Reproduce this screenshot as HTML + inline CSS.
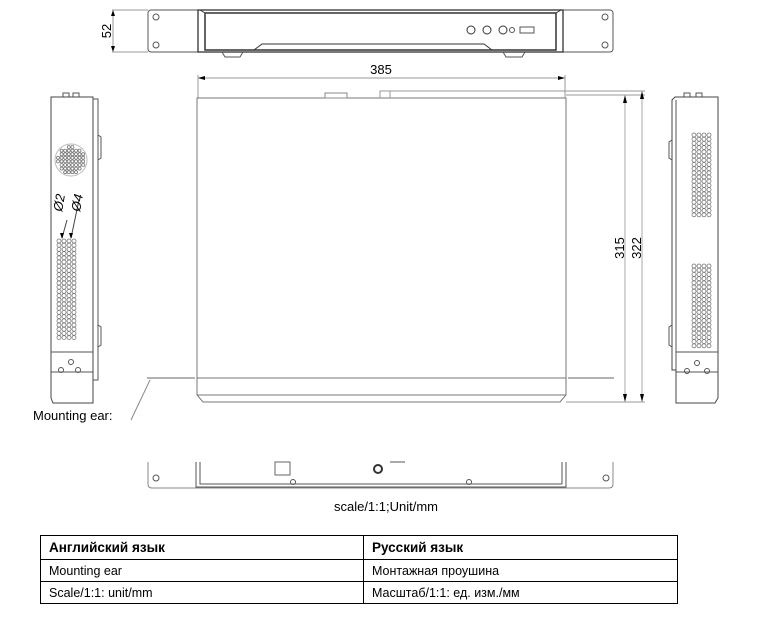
<!DOCTYPE html>
<html><head><meta charset="utf-8"><style>
html,body{margin:0;padding:0;background:#fff;width:772px;height:635px;overflow:hidden;font-family:"Liberation Sans",sans-serif}
svg{position:absolute;left:0;top:0}
table{position:absolute;left:40px;top:535px;width:638px;border-collapse:collapse;font-family:"Liberation Sans","DejaVu Sans",sans-serif;font-size:12.5px;color:#000}
td{border:1px solid #000;height:21px;padding:0 8px;vertical-align:middle}
tr:first-child td{font-weight:bold;font-size:13.5px;height:23px}
</style></head><body>
<svg id="s" width="772" height="635" viewBox="0 0 772 635" fill="none" stroke="#555" stroke-width="1">
<!-- front view -->
<rect x="148" y="10" width="465" height="42" rx="3"/>
<circle cx="156" cy="17" r="3"/><circle cx="156" cy="45" r="3"/>
<circle cx="605" cy="17" r="3"/><circle cx="605" cy="45" r="3"/>
<rect x="198" y="10" width="365" height="42" stroke="#333" stroke-width="1.3"/>
<rect x="205" y="13" width="351" height="37" stroke="#333" stroke-width="1.5"/>
<path d="M200 10 L205 13 M561 10 L556 13 M254 50 L262 44 L484 44 L492 50" stroke="#333"/>
<path d="M222 52 L225 57 L240 57 L243 52 M503 52 L506 57 L522 57 L525 52"/>
<circle cx="471" cy="30" r="4" stroke="#333"/><circle cx="487" cy="30" r="4" stroke="#333"/>
<circle cx="503" cy="30" r="4" stroke="#333"/><circle cx="512" cy="30" r="2.5"/>
<rect x="520" y="27" width="14" height="6"/>
<!-- 52 dim -->
<path d="M112 10 L148 10 M112 52 L148 52 M113 12 L113 50" stroke="#999"/>
<path d="M113 10 l-2 6 h4z M113 52 l-2 -6 h4z" fill="#000" stroke="none"/>
<text x="0" y="0" transform="translate(111,31) rotate(-90)" text-anchor="middle" font-size="13" fill="#000" stroke="none" font-family="Liberation Sans">52</text>
<!-- 385 dim -->
<path d="M198 75 L198 98 M565 75 L565 98 M199 78 L564 78" stroke="#999"/>
<path d="M198 78 l7 -2 v4z M565 78 l-7 -2 v4z" fill="#000" stroke="none"/>
<text x="381" y="74" text-anchor="middle" font-size="13" fill="#000" stroke="none">385</text>
<!-- top view -->
<rect x="197" y="98" width="369" height="280" stroke="#777"/>
<path d="M197 378 L197 395 L203 402 L560 402 L566 395 L566 378 M197 395 L566 395" stroke="#777"/>
<path d="M147 378 L195 378 M568 378 L614 378" stroke="#999" stroke-width="1.5"/>
<path d="M150 380 L131 420" stroke="#888"/>
<path d="M380 98 L380 91 L390 91 L390 98 M390 91 L645 91 M566 95 L645 95 M566 402 L645 402" stroke="#999"/>
<rect x="325" y="93" width="22" height="5" stroke="#888"/>
<path d="M625 97 L625 400 M642 93 L642 400" stroke="#aaa"/>
<path d="M625 95 l-2 8 h4z M625 402 l-2 -8 h4z M642 91 l-2 8 h4z M642 402 l-2 -8 h4z" fill="#000" stroke="none"/>
<text transform="translate(624,248) rotate(-90)" text-anchor="middle" font-size="13" fill="#000" stroke="none">315</text>
<text transform="translate(641,248) rotate(-90)" text-anchor="middle" font-size="13" fill="#000" stroke="none">322</text>
<text x="33" y="420" font-size="13" fill="#000" stroke="none">Mounting ear:</text>
<!-- left side view -->
<path d="M51 97 L93 97 L93 403 L53 403 L51 398 Z" stroke="#444"/>
<path d="M93 99 L98 99 L98 380 L93 380 M98 135 L101 137 L101 158 L98 160 M98 325 L101 327 L101 345 L98 347 M51 352 L93 352 M51 372 L93 372" stroke="#555"/>
<path d="M63 97 v-4 h6 v4 M73 97 v-4 h6 v4" stroke="#555"/>
<circle cx="71" cy="160" r="16" stroke="#bbb"/>
<path d="M67 220 L62 238 M79 200 L71 238" stroke="#444"/>
<path d="M62 239 l-2 -6 h4z M71 239 l-2 -6 h4z" fill="#000" stroke="none"/>
<text transform="translate(62,212) rotate(-80)" font-size="13" fill="#000" stroke="none" font-style="italic">Ø2</text>
<text transform="translate(80,212) rotate(-80)" font-size="13" fill="#000" stroke="none" font-style="italic">Ø4</text>
<circle cx="71" cy="362" r="2.5"/><circle cx="61" cy="370" r="2.5"/><circle cx="78" cy="370" r="2.5"/>
<!-- right side view -->
<path d="M675 97 L718 97 L718 398 L715 403 L676 403 L676 370 L672 370 L672 100 Z" stroke="#444"/>
<path d="M676 100 L676 370 M672 140 L669 142 L669 158 L672 160 M672 325 L669 327 L669 345 L672 347 M676 352 L718 352 M676 372 L718 372" stroke="#555"/>
<path d="M684 97 v-4 h6 v4 M696 97 v-4 h6 v4" stroke="#555"/>
<circle cx="697" cy="363" r="2.5"/><circle cx="687" cy="371" r="2.5"/><circle cx="707" cy="371" r="2.5"/>
<!-- bottom view -->
<path d="M148 462 L148 484 Q148 488 152 488 L609 488 Q613 488 613 484 L613 462" stroke="#888"/>
<circle cx="156" cy="478" r="3"/><circle cx="606" cy="478" r="3"/>
<path d="M196 462 L196 487 L566 487 L566 462 M200 462 L200 484 L202 484 L562 484 M562 462 L562 484" stroke="#555"/>
<rect x="275" y="462" width="15" height="13" stroke="#666"/>
<circle cx="378" cy="469" r="4" stroke="#333" stroke-width="2"/>
<circle cx="293" cy="482" r="2.5"/><circle cx="469" cy="482" r="2.5"/>
<path d="M390 462 L405 462" stroke="#555"/>
<text x="386" y="511" text-anchor="middle" font-size="13" fill="#000" stroke="none">scale/1:1;Unit/mm</text>
<g id="holes" stroke="#777" stroke-width="0.8"></g>
</svg>
<table>
<tr><td style="width:306px">Английский язык</td><td>Русский язык</td></tr>
<tr><td>Mounting ear</td><td>Монтажная проушина</td></tr>
<tr><td>Scale/1:1: unit/mm</td><td>Масштаб/1:1: ед. изм./мм</td></tr>
</table>
<script>
var g=document.getElementById('holes'),h='';
function grid(x0,y0,cols,rows,dx,dy){for(var r=0;r<rows;r++)for(var c=0;c<cols;c++)h+='<circle cx="'+(x0+c*dx)+'" cy="'+(y0+r*dy)+'" r="2"/>';}
grid(59,241,4,24,5,4.2);
grid(694,135,4,20,5,4.2);
grid(694,266,4,20,5,4.2);
for(var y=147;y<=174;y+=3.6)for(var x=58;x<=84;x+=3.6){if((x-71)*(x-71)+(y-160)*(y-160)<190)h+='<circle cx="'+x+'" cy="'+y+'" r="1.5"/>';}
g.innerHTML=h;
</script>
</body></html>
